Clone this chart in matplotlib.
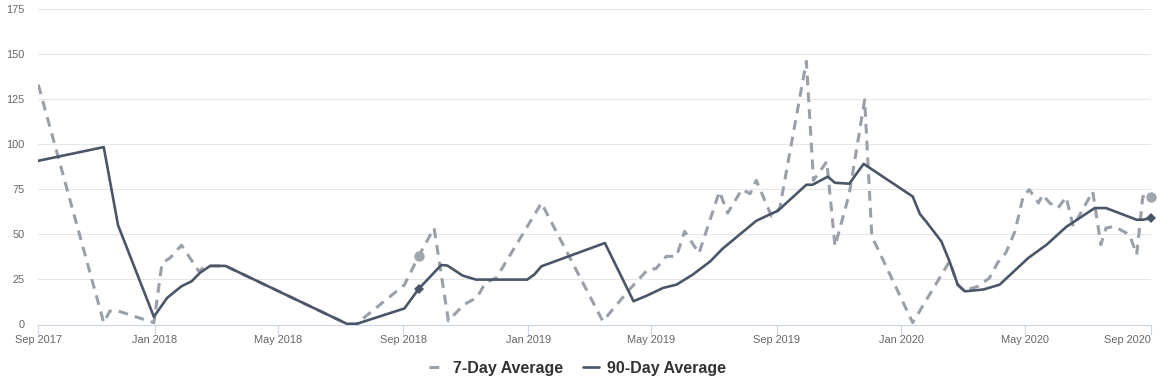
import matplotlib
matplotlib.use("Agg")
import matplotlib.pyplot as plt
import matplotlib.dates as mdates
import numpy as np
import pandas as pd

# ---------------- data ----------------
day7_dates = [
    "2017-09-09", "2017-11-12", "2017-11-18", "2017-11-26", "2017-12-31",
    "2018-01-08", "2018-01-16", "2018-01-27", "2018-02-13", "2018-02-19",
    "2018-02-24", "2018-03-11", "2018-07-08", "2018-07-17", "2018-09-02",
    "2018-09-16", "2018-10-01", "2018-10-15", "2018-10-30", "2018-11-12",
    "2018-11-20", "2018-12-01", "2019-01-14", "2019-03-15", "2019-04-10",
    "2019-04-28", "2019-05-06", "2019-05-16", "2019-05-26", "2019-06-03",
    "2019-06-17", "2019-07-07", "2019-07-15", "2019-07-29", "2019-08-06",
    "2019-08-12", "2019-08-27", "2019-09-04", "2019-09-30", "2019-10-07",
    "2019-10-20", "2019-10-28", "2019-11-11", "2019-11-26", "2019-12-03",
    "2020-01-12", "2020-02-17", "2020-02-25", "2020-03-03", "2020-03-08",
    "2020-03-16", "2020-03-27", "2020-04-04", "2020-04-12", "2020-04-21",
    "2020-04-29", "2020-05-05", "2020-05-14", "2020-05-18", "2020-05-25",
    "2020-06-02", "2020-06-10", "2020-06-17", "2020-06-27", "2020-07-06",
    "2020-07-14", "2020-07-19", "2020-07-27", "2020-08-11", "2020-08-18",
    "2020-08-24", "2020-09-01",
]
day7_values = [
    133, 1, 7.5, 7.5, 1,
    34, 37, 44, 29.5, 32,
    32.5, 32.5, 0.3, 0.3, 22,
    38, 53.5, 2, 11, 15,
    23, 26, 67.4, 1.8, 19.4,
    30.5, 31, 37.8, 37.8, 51.7,
    39.5, 73.8, 61.8, 75, 72.5,
    80, 60, 64.6, 146, 80,
    90.4, 43.4, 72.5, 124.6, 49,
    1, 35, 22, 18.4, 19.8,
    21.2, 25.8, 34.2, 39.7, 51.7,
    71, 74.8, 67.4, 72, 67.4,
    64.6, 70.7, 54.4, 64.6, 73.8,
    44.3, 53.5, 54.4, 49.8, 38.8,
    71, 70.5,
]

day90_dates = [
    "2017-09-09", "2017-11-12", "2017-11-26", "2017-12-31", "2018-01-13",
    "2018-01-27", "2018-02-06", "2018-02-14", "2018-02-24", "2018-03-11",
    "2018-07-08", "2018-07-17", "2018-09-02", "2018-09-16", "2018-10-08",
    "2018-10-14", "2018-10-29", "2018-11-11", "2018-12-31", "2019-01-07",
    "2019-01-14", "2019-03-17", "2019-04-14", "2019-04-27", "2019-05-13",
    "2019-05-26", "2019-06-11", "2019-06-28", "2019-07-10", "2019-08-12",
    "2019-08-27", "2019-09-02", "2019-09-30", "2019-10-06", "2019-10-21",
    "2019-10-28", "2019-11-11", "2019-11-25", "2020-01-12", "2020-01-19",
    "2020-01-25", "2020-02-09", "2020-02-17", "2020-02-25", "2020-03-03",
    "2020-03-21", "2020-04-06", "2020-05-04", "2020-05-22", "2020-06-10",
    "2020-07-08", "2020-07-19", "2020-08-18", "2020-08-24", "2020-09-01",
]
day90_values = [
    90.8, 98.4, 55, 4.3, 14.8,
    21.2, 24, 28.6, 32.5, 32.5,
    0.3, 0.3, 8.9, 19.8, 33,
    32.7, 27.1, 24.9, 24.9, 27.7,
    32.3, 45.2, 12.9, 16, 20.3,
    22.1, 27.7, 35, 42, 57.5,
    61.5, 63, 77.5, 77.5, 82,
    78.6, 78.1, 89.1, 71, 61.3,
    57.2, 46.1, 35, 22.1, 18.4,
    19.4, 22.1, 36.9, 44.3, 54.1,
    64.6, 64.6, 58.1, 58.1, 59,
]

marker_dates = ["2018-09-16", "2020-09-01"]

x_start = "2017-09-09"
x_end = "2020-09-01"
tick_dates = [x_start, "2018-01-01", "2018-05-01", "2018-09-01", "2019-01-01",
              "2019-05-01", "2019-09-01", "2020-01-01", "2020-05-01", "2020-09-01"]
y_ticks = [0, 25, 50, 75, 100, 125, 150, 175]

series_names = ["7-Day Average", "90-Day Average"]

# ---------------- style ----------------
W, H = 1169, 388
DPI = 100
c7 = "#9aa0a9"
c90 = "#4a5668"
grid_c = "#e6e6e6"
axis_c = "#ccd6eb"
label_c = "#666666"
font = ["Liberation Sans", "DejaVu Sans"]
plt.rcParams["font.family"] = font

fig = plt.figure(figsize=(W / DPI, H / DPI), dpi=DPI)
left, right = 38.3 / W, 1151 / W
bottom, top = (H - 324.5) / H, (H - 9) / H
ax = fig.add_axes([left, bottom, right - left, top - bottom])

d7 = pd.to_datetime(day7_dates)
d90 = pd.to_datetime(day90_dates)
v7 = np.array(day7_values)
v90 = np.array(day90_values)

l7, = ax.plot(d7, v7, color=c7, lw=2.2, linestyle=(0, (3.2, 2.3)),
              dash_capstyle="butt", solid_joinstyle="round", zorder=3,
              label=series_names[0])
l90, = ax.plot(d90, v90, color=c90, lw=1.9, solid_joinstyle="round",
               solid_capstyle="round", zorder=4, label=series_names[1])

md = pd.to_datetime(marker_dates)
m7 = [v7[list(d7).index(d)] for d in md]
m90 = [v90[list(d90).index(d)] for d in md]
ax.plot(md, m7, linestyle="none", marker="o", ms=7.5, color="#a0a6b0",
        markeredgewidth=0, zorder=5, clip_on=False)
ax.plot(md, m90, linestyle="none", marker="D", ms=5, color=c90,
        markeredgewidth=0, zorder=6, clip_on=False)

ax.set_xlim(pd.Timestamp(x_start), pd.Timestamp(x_end))
ax.set_ylim(0, 175)

ax.set_xticks(pd.to_datetime(tick_dates))
ax.xaxis.set_major_formatter(mdates.DateFormatter("%b %Y"))
ax.set_yticks(y_ticks)

ax.grid(axis="y", color=grid_c, lw=0.75, zorder=0)
ax.grid(axis="x", visible=False)
for s in ["top", "right", "left"]:
    ax.spines[s].set_visible(False)
ax.spines["bottom"].set_color(axis_c)
ax.spines["bottom"].set_linewidth(0.8)
ax.set_axisbelow(True)

ax.tick_params(axis="x", direction="out", length=7, width=0.8, color=axis_c,
               labelcolor=label_c, labelsize=7.9, pad=0.5)
ax.tick_params(axis="y", length=0, labelcolor=label_c, labelsize=7.9, pad=10)

# keep the last x label inside the chart, like the reference
fig.canvas.draw()
xlabels = ax.get_xticklabels()
xlabels[-1].set_horizontalalignment("right")

leg = fig.legend(handles=[l7, l90], loc="center",
                 bbox_to_anchor=(577.5 / W, (H - 368) / H), ncol=2,
                 frameon=False, handlelength=1.0, handletextpad=0.45,
                 columnspacing=1.3, prop={"family": font, "weight": "bold", "size": 11.5})
for t in leg.get_texts():
    t.set_color("#333333")

fig.savefig("out.png", dpi=DPI)
